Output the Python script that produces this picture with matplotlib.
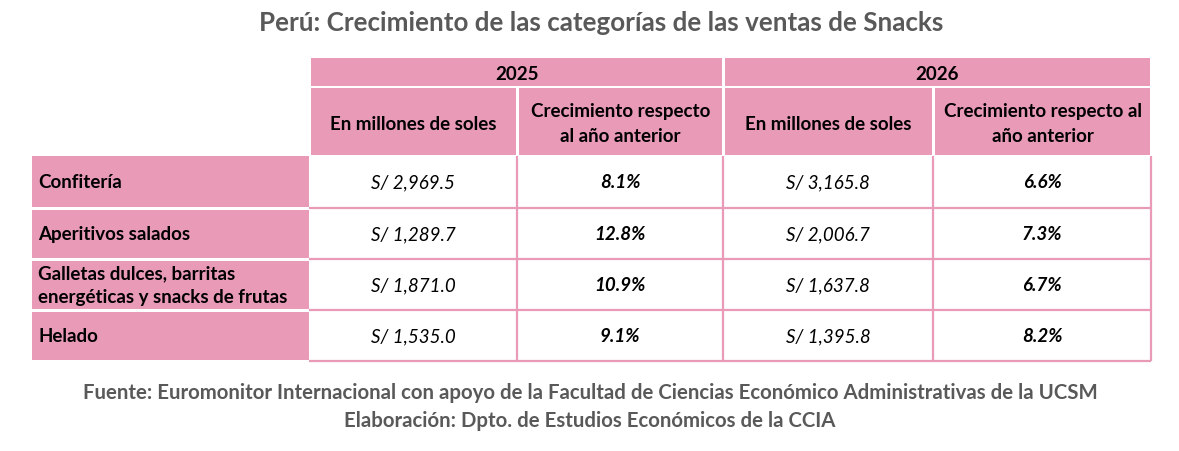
import matplotlib
matplotlib.use("Agg")
import matplotlib.pyplot as plt
from matplotlib.patches import Rectangle

# ---- data ----
title = "Perú: Crecimiento de las categorías de las ventas de Snacks"
years = ["2025", "2026"]
sub_headers = ["En millones de soles", "Crecimiento respecto\nal año anterior",
               "En millones de soles", "Crecimiento respecto al\naño anterior"]
categories = ["Confitería", "Aperitivos salados",
              "Galletas dulces, barritas\nenergéticas y snacks de frutas", "Helado"]
sales_2025 = [2969.5, 1289.7, 1871.0, 1535.0]
growth_2025 = [8.1, 12.8, 10.9, 9.1]
sales_2026 = [3165.8, 2006.7, 1637.8, 1395.8]
growth_2026 = [6.6, 7.3, 6.7, 8.2]
footer = ("Fuente: Euromonitor Internacional con apoyo de la Facultad de Ciencias Económico Administrativas de la UCSM\n"
          "Elaboración: Dpto. de Estudios Económicos de la CCIA")

# ---- layout (pixel coordinates) ----
W, H = 1179, 452
PINK = "#E89AB6"
TXT = "#000000"
GRAY = "#595959"
FONT = "Lato"

col_edges = [309, 517, 723, 933, 1151]
label_x0 = 32
hdr_year = (59, 87)
hdr_sub = (89, 156)
row_edges = [157, 209, 260, 311, 362]

fig = plt.figure(figsize=(W / 100, H / 100), dpi=100)
ax = fig.add_axes([0, 0, 1, 1])
ax.set_xlim(0, W)
ax.set_ylim(H, 0)
ax.axis("off")

def rect(x0, y0, x1, y1, **kw):
    ax.add_patch(Rectangle((x0, y0), x1 - x0, y1 - y0, **kw))

fs = 13.5

# title
ax.text(601, 23, title, ha="center", va="center", fontsize=18.7, fontweight="bold",
        color=GRAY, family=FONT)

# year header
for i, y in enumerate(years):
    x0 = col_edges[2 * i] + 2
    x1 = col_edges[2 * i + 2] - 1
    rect(x0, hdr_year[0], x1, hdr_year[1], facecolor=PINK, edgecolor="none")
    ax.text((x0 + x1) / 2, 74, y, ha="center", va="center", fontsize=fs,
            fontweight="bold", color=TXT, family=FONT)

# sub headers
for j, s in enumerate(sub_headers):
    x0 = col_edges[j] + 2
    x1 = col_edges[j + 1] - 1
    rect(x0, hdr_sub[0], x1, hdr_sub[1], facecolor=PINK, edgecolor="none")
    ax.text((x0 + x1) / 2, 124, s, ha="center", va="center", fontsize=fs,
            fontweight="bold", color=TXT, family=FONT, linespacing=1.55)

# row labels
for r, c in enumerate(categories):
    y0 = row_edges[r] + (0 if r == 0 else 1.5)
    y1 = row_edges[r + 1] - 1.5
    rect(label_x0, y0, col_edges[0], y1, facecolor=PINK, edgecolor="none")
    ax.text(38, (row_edges[r] + row_edges[r + 1]) / 2, c, ha="left", va="center",
            fontsize=fs, fontweight="bold", color=TXT, family=FONT, linespacing=1.5)

# data grid
for r in range(1, len(categories) + 1):
    ax.plot([col_edges[0], col_edges[-1]], [row_edges[r], row_edges[r]],
            color=PINK, lw=1.6, solid_capstyle="butt")
for c in range(1, len(col_edges)):
    ax.plot([col_edges[c], col_edges[c]], [row_edges[0], row_edges[-1]],
            color=PINK, lw=1.6, solid_capstyle="butt")

# data values
cols = [sales_2025, growth_2025, sales_2026, growth_2026]
for j, vals in enumerate(cols):
    xc = (col_edges[j] + col_edges[j + 1]) / 2
    for r, v in enumerate(vals):
        yc = (row_edges[r] + row_edges[r + 1]) / 2
        if j % 2 == 0:
            s = "S/ " + f"{v:,.1f}"
            wt = "normal"
        else:
            s = f"{v:.1f}%"
            wt = "bold"
        ax.text(xc, yc, s, ha="center", va="center", fontsize=fs, fontweight=wt,
                style="italic", color=TXT, family=FONT)

# footer
ax.text(590, 407, footer, ha="center", va="center", fontsize=14.7, fontweight="bold",
        color=GRAY, family=FONT, linespacing=1.5)

fig.savefig("out.png", dpi=100)
